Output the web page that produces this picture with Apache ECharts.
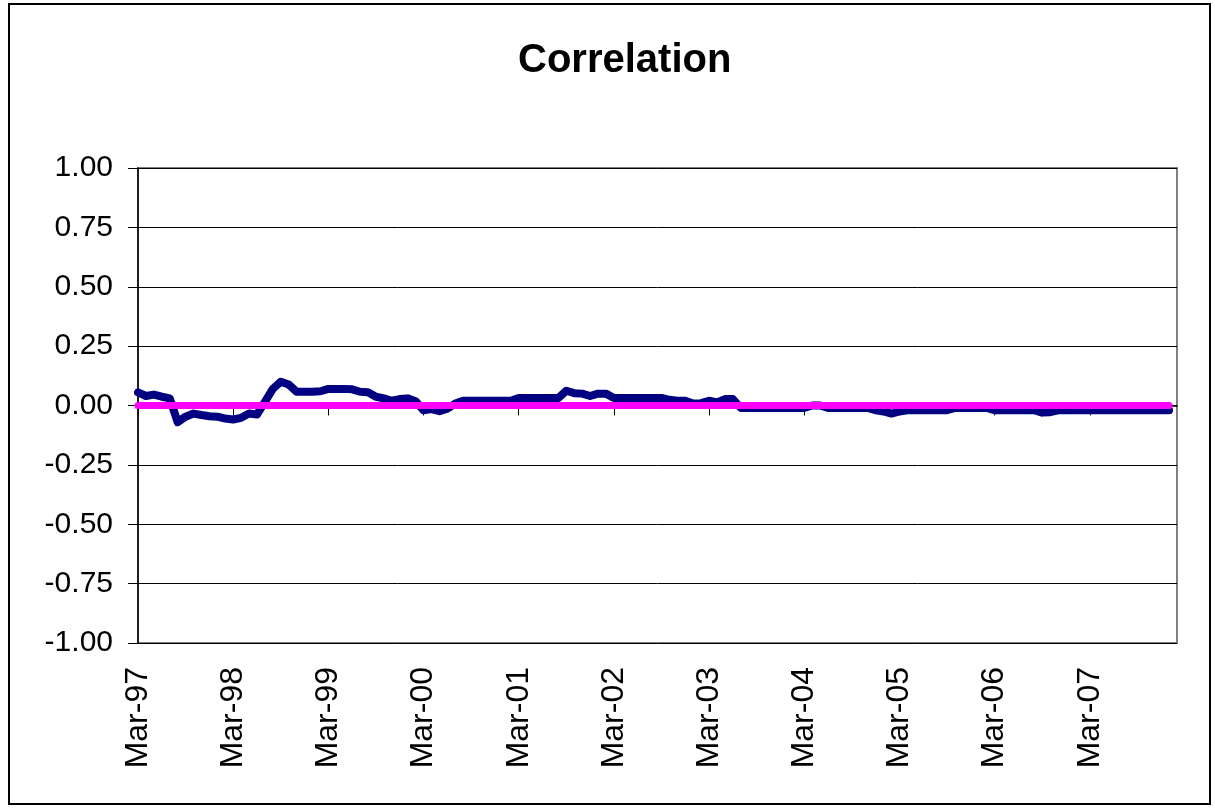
<!DOCTYPE html>
<html>
<head>
<meta charset="utf-8">
<script src="https://cdn.jsdelivr.net/npm/echarts@6/dist/echarts.min.js"></script>
<style>
    html, body {
        margin: 0;
        padding: 0;
        background: #fff;
    }
    .frame {
        position: absolute;
        left: 8px;
        top: 3px;
        width: 1203px;
        height: 802px;
        border: 2px solid #000;
        box-sizing: border-box;
    }
    .chart {
        position: absolute;
        left: 0;
        top: 0;
        width: 1215px;
        height: 809px;
    }
</style>
</head>
<body>
<div class="frame"></div>
<div id="chart" class="chart"></div>
<script>
// monthly, Mar-97 .. Jan-08 (131 points)
const correlation = [
    0.055, 0.04, 0.046, 0.037, 0.03, -0.07, -0.047, -0.034, -0.04, -0.045,
    -0.047, -0.055, -0.059, -0.052, -0.034, -0.038, 0.015, 0.07, 0.1, 0.088,
    0.058, 0.058, 0.058, 0.06, 0.07, 0.07, 0.07, 0.068, 0.058, 0.056,
    0.037, 0.03, 0.02, 0.027, 0.03, 0.018, -0.02, -0.015, -0.024, -0.013,
    0.008, 0.02, 0.02, 0.02, 0.02, 0.02, 0.02, 0.02, 0.032, 0.032,
    0.032, 0.032, 0.032, 0.032, 0.062, 0.052, 0.05, 0.04, 0.05, 0.05,
    0.032, 0.032, 0.032, 0.032, 0.032, 0.032, 0.032, 0.024, 0.02, 0.02,
    0.008, 0.01, 0.02, 0.013, 0.027, 0.027, -0.01, -0.01, -0.01, -0.01,
    -0.01, -0.01, -0.01, -0.01, -0.01, 0, 0, -0.01, -0.01, -0.01,
    -0.01, -0.01, -0.01, -0.02, -0.025, -0.034, -0.025, -0.02, -0.02, -0.02,
    -0.02, -0.02, -0.02, -0.01, -0.01, -0.01, -0.01, -0.01, -0.02, -0.02,
    -0.02, -0.02, -0.02, -0.02, -0.03, -0.028, -0.02, -0.02, -0.02, -0.02,
    -0.02, -0.02, -0.02, -0.02, -0.02, -0.02, -0.02, -0.02, -0.02, -0.02,
    -0.02
]

const zeroLine = [
    0, 0, 0, 0, 0, 0, 0, 0, 0, 0, 0, 0, 0, 0, 0, 0, 0, 0, 0, 0,
    0, 0, 0, 0, 0, 0, 0, 0, 0, 0, 0, 0, 0, 0, 0, 0, 0, 0, 0, 0,
    0, 0, 0, 0, 0, 0, 0, 0, 0, 0, 0, 0, 0, 0, 0, 0, 0, 0, 0, 0,
    0, 0, 0, 0, 0, 0, 0, 0, 0, 0, 0, 0, 0, 0, 0, 0, 0, 0, 0, 0,
    0, 0, 0, 0, 0, 0, 0, 0, 0, 0, 0, 0, 0, 0, 0, 0, 0, 0, 0, 0,
    0, 0, 0, 0, 0, 0, 0, 0, 0, 0, 0, 0, 0, 0, 0, 0, 0, 0, 0, 0,
    0, 0, 0, 0, 0, 0, 0, 0, 0, 0, 0
]

const monthNames = ['Jan', 'Feb', 'Mar', 'Apr', 'May', 'Jun', 'Jul', 'Aug', 'Sep', 'Oct', 'Nov', 'Dec']
const startYear = 1997
const startMonth = 2 // Mar
const categoryCount = 132 // one spare slot after the last point

// labels like Mar-97
const months = []
for (let i = 0; i < categoryCount; i++) {
    const m = (startMonth + i) % 12
    const y = startYear + Math.floor((startMonth + i) / 12)
    months.push(monthNames[m] + '-' + String(y % 100).padStart(2, '0'))
}

const yTicks = [-1, -0.75, -0.5, -0.25, 0, 0.25, 0.5, 0.75, 1]

const font = 'Liberation Sans, Arial, sans-serif'
const everyYear = (index) => index % 12 === 0

const chart = echarts.init(document.getElementById('chart'))

const option = {
    animation: false,
    title: {
        text: 'Correlation',
        left: 513,
        top: 36,
        textStyle: {
            fontFamily: font,
            fontSize: 40,
            fontWeight: 'bold',
            color: '#000'
        }
    },
    grid: {
        left: 138,
        right: 38,
        top: 168,
        bottom: 166,
        show: true,
        borderColor: '#808080',
        borderWidth: 2
    },
    xAxis: {
        type: 'category',
        data: months,
        boundaryGap: false,
        axisLine: {
            lineStyle: { color: '#000', width: 1.5 }
        },
        axisTick: {
            interval: (index) => everyYear(index),
            length: 10,
            lineStyle: { color: '#000' }
        },
        axisLabel: {
            interval: (index) => everyYear(index),
            rotate: 90,
            margin: 24,
            fontFamily: font,
            fontSize: 32,
            color: '#000'
        },
        splitLine: { show: false }
    },
    yAxis: {
        type: 'value',
        min: yTicks[0],
        max: yTicks[yTicks.length - 1],
        interval: 0.25,
        axisLine: {
            show: true,
            lineStyle: { color: '#000', width: 1.5 }
        },
        axisTick: {
            show: true,
            length: 10,
            lineStyle: { color: '#000' }
        },
        axisLabel: {
            margin: 25,
            fontFamily: font,
            fontSize: 30,
            color: '#000',
            formatter: (v) => v.toFixed(2)
        },
        splitLine: {
            lineStyle: { color: '#000', width: 1 }
        }
    },
    series: [
        {
            name: 'Correlation',
            type: 'line',
            data: correlation,
            symbol: 'none',
            clip: false,
            lineStyle: {
                color: '#000080',
                width: 8,
                cap: 'round',
                join: 'round'
            }
        },
        {
            name: 'Zero',
            type: 'line',
            data: zeroLine,
            symbol: 'none',
            clip: false,
            lineStyle: {
                color: '#ff00ff',
                width: 7,
                cap: 'round',
                join: 'round'
            }
        }
    ]
}

chart.setOption(option)
</script>
</body>
</html>
